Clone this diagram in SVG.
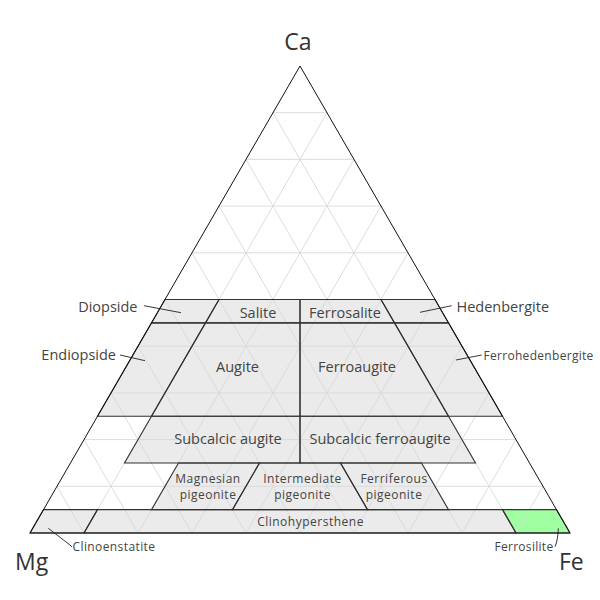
<svg xmlns="http://www.w3.org/2000/svg" width="600" height="600" viewBox="0 0 600 600">
<style>
.r{fill:#ebebeb;stroke:none}
.g{fill:#a0ffa0;stroke:none}
.grid{stroke:#d9d9d9;stroke-width:0.9;fill:none}
.ol{fill:none;stroke:#333;stroke-width:1.1}
.t{font-family:"Open Sans","DejaVu Sans",sans-serif;fill:#444}
.big{font-size:14.5px;text-anchor:middle}
.sm{font-size:12px;text-anchor:middle;letter-spacing:0.5px}
.ax{font-size:23px;fill:#333}
.lead{stroke:#222;stroke-width:0.9;fill:none}
</style>
<defs>
<polygon id="p-diopside" points="165,299.5 219,299.5 205.5,322.85 151.5,322.85"/>
<polygon id="p-salite" points="219,299.5 300,299.5 300,322.85 205.5,322.85"/>
<polygon id="p-ferrosalite" points="300,299.5 381,299.5 394.5,322.85 300,322.85"/>
<polygon id="p-hedenbergite" points="381,299.5 435,299.5 448.5,322.85 394.5,322.85"/>
<polygon id="p-endiopside" points="151.5,322.85 205.5,322.85 151.5,416.25 97.5,416.25"/>
<polygon id="p-augite" points="205.5,322.85 300,322.85 300,416.25 151.5,416.25"/>
<polygon id="p-ferroaugite" points="300,322.85 394.5,322.85 448.5,416.25 300,416.25"/>
<polygon id="p-ferrohedenbergite" points="394.5,322.85 448.5,322.85 502.5,416.25 448.5,416.25"/>
<polygon id="p-subcalcic-augite" points="151.5,416.25 300,416.25 300,462.95 124.5,462.95"/>
<polygon id="p-subcalcic-ferroaugite" points="300,416.25 448.5,416.25 475.5,462.95 300,462.95"/>
<polygon id="p-magnesian-pigeonite" points="178.5,462.95 259.5,462.95 232.5,509.65 151.5,509.65"/>
<polygon id="p-intermediate-pigeonite" points="259.5,462.95 340.5,462.95 367.5,509.65 232.5,509.65"/>
<polygon id="p-ferriferous-pigeonite" points="340.5,462.95 421.5,462.95 448.5,509.65 367.5,509.65"/>
<polygon id="p-clinoenstatite" points="43.5,509.65 97.5,509.65 84,533 30,533"/>
<polygon id="p-clinohypersthene" points="97.5,509.65 502.5,509.65 516,533 84,533"/>
<polygon id="p-ferrosilite" points="502.5,509.65 556.5,509.65 570,533 516,533"/>
</defs>
<rect width="600" height="600" fill="#fff"/>
<g id="fills">
<use href="#p-diopside" class="r"/>
<use href="#p-salite" class="r"/>
<use href="#p-ferrosalite" class="r"/>
<use href="#p-hedenbergite" class="r"/>
<use href="#p-endiopside" class="r"/>
<use href="#p-augite" class="r"/>
<use href="#p-ferroaugite" class="r"/>
<use href="#p-ferrohedenbergite" class="r"/>
<use href="#p-subcalcic-augite" class="r"/>
<use href="#p-subcalcic-ferroaugite" class="r"/>
<use href="#p-magnesian-pigeonite" class="r"/>
<use href="#p-intermediate-pigeonite" class="r"/>
<use href="#p-ferriferous-pigeonite" class="r"/>
<use href="#p-clinoenstatite" class="r"/>
<use href="#p-clinohypersthene" class="r"/>
<use href="#p-ferrosilite" class="g"/>
</g>
<g id="grid" class="grid">
<line x1="273" y1="112.7" x2="327" y2="112.7"/>
<line x1="246" y1="159.4" x2="354" y2="159.4"/>
<line x1="219" y1="206.1" x2="381" y2="206.1"/>
<line x1="192" y1="252.8" x2="408" y2="252.8"/>
<line x1="165" y1="299.5" x2="435" y2="299.5"/>
<line x1="138" y1="346.2" x2="462" y2="346.2"/>
<line x1="111" y1="392.9" x2="489" y2="392.9"/>
<line x1="84" y1="439.6" x2="516" y2="439.6"/>
<line x1="57" y1="486.3" x2="543" y2="486.3"/>
<line x1="84" y1="533" x2="327" y2="112.7"/>
<line x1="138" y1="533" x2="354" y2="159.4"/>
<line x1="192" y1="533" x2="381" y2="206.1"/>
<line x1="246" y1="533" x2="408" y2="252.8"/>
<line x1="300" y1="533" x2="435" y2="299.5"/>
<line x1="354" y1="533" x2="462" y2="346.2"/>
<line x1="408" y1="533" x2="489" y2="392.9"/>
<line x1="462" y1="533" x2="516" y2="439.6"/>
<line x1="516" y1="533" x2="543" y2="486.3"/>
<line x1="516" y1="533" x2="273" y2="112.7"/>
<line x1="462" y1="533" x2="246" y2="159.4"/>
<line x1="408" y1="533" x2="219" y2="206.1"/>
<line x1="354" y1="533" x2="192" y2="252.8"/>
<line x1="300" y1="533" x2="165" y2="299.5"/>
<line x1="246" y1="533" x2="138" y2="346.2"/>
<line x1="192" y1="533" x2="111" y2="392.9"/>
<line x1="138" y1="533" x2="84" y2="439.6"/>
<line x1="84" y1="533" x2="57" y2="486.3"/>
</g>
<g id="outlines" class="ol">
<use href="#p-diopside"/>
<use href="#p-salite"/>
<use href="#p-ferrosalite"/>
<use href="#p-hedenbergite"/>
<use href="#p-endiopside"/>
<use href="#p-augite"/>
<use href="#p-ferroaugite"/>
<use href="#p-ferrohedenbergite"/>
<use href="#p-subcalcic-augite"/>
<use href="#p-subcalcic-ferroaugite"/>
<use href="#p-magnesian-pigeonite"/>
<use href="#p-intermediate-pigeonite"/>
<use href="#p-ferriferous-pigeonite"/>
<use href="#p-clinoenstatite"/>
<use href="#p-clinohypersthene"/>
<use href="#p-ferrosilite"/>
</g>
<polygon id="triangle" points="300,66 570,533 30,533" fill="none" stroke="#111" stroke-width="1"/>
<g id="connectors" class="lead">
<path d="M144,305.7 L181,312.7"/>
<path d="M120,355 L145,360.7"/>
<path d="M451.7,305.7 L420,312.3"/>
<path d="M481.7,355 L456,360"/>
<path d="M48.3,528.3 L70,545 L72,547"/>
<path d="M558.3,528.3 Q558,540 555,546.7"/>
</g>
<g id="labels">
<text class="t ax" x="298" y="50" text-anchor="middle">Ca</text>
<text class="t ax" x="15" y="570">Mg</text>
<text class="t ax" x="559" y="570">Fe</text>
<text class="t big" x="258" y="317.5">Salite</text>
<text class="t big" x="345" y="317.5">Ferrosalite</text>
<text class="t big" x="237.5" y="372">Augite</text>
<text class="t big" x="357" y="372">Ferroaugite</text>
<text class="t big" x="228" y="444">Subcalcic augite</text>
<text class="t big" x="380" y="444">Subcalcic ferroaugite</text>
<text class="t sm" x="208" y="483.3">Magnesian</text>
<text class="t sm" x="208" y="499.3">pigeonite</text>
<text class="t sm" x="302.5" y="483.3">Intermediate</text>
<text class="t sm" x="302.5" y="499.3">pigeonite</text>
<text class="t sm" x="394" y="483.3">Ferriferous</text>
<text class="t sm" x="394" y="499.3">pigeonite</text>
<text class="t sm" x="310.5" y="525.7">Clinohypersthene</text>
<text class="t" x="137.5" y="312.3" font-size="14.5" text-anchor="end">Diopside</text>
<text class="t" x="116" y="360" font-size="14.5" text-anchor="end">Endiopside</text>
<text class="t" x="456.5" y="311.7" font-size="14.5">Hedenbergite</text>
<text class="t" x="483.5" y="360" font-size="12" letter-spacing="0.3">Ferrohedenbergite</text>
<text class="t" x="72.5" y="551" font-size="12" letter-spacing="0.4">Clinoenstatite</text>
<text class="t" x="553.5" y="551" font-size="12" letter-spacing="0.3" text-anchor="end">Ferrosilite</text>
</g>
</svg>
